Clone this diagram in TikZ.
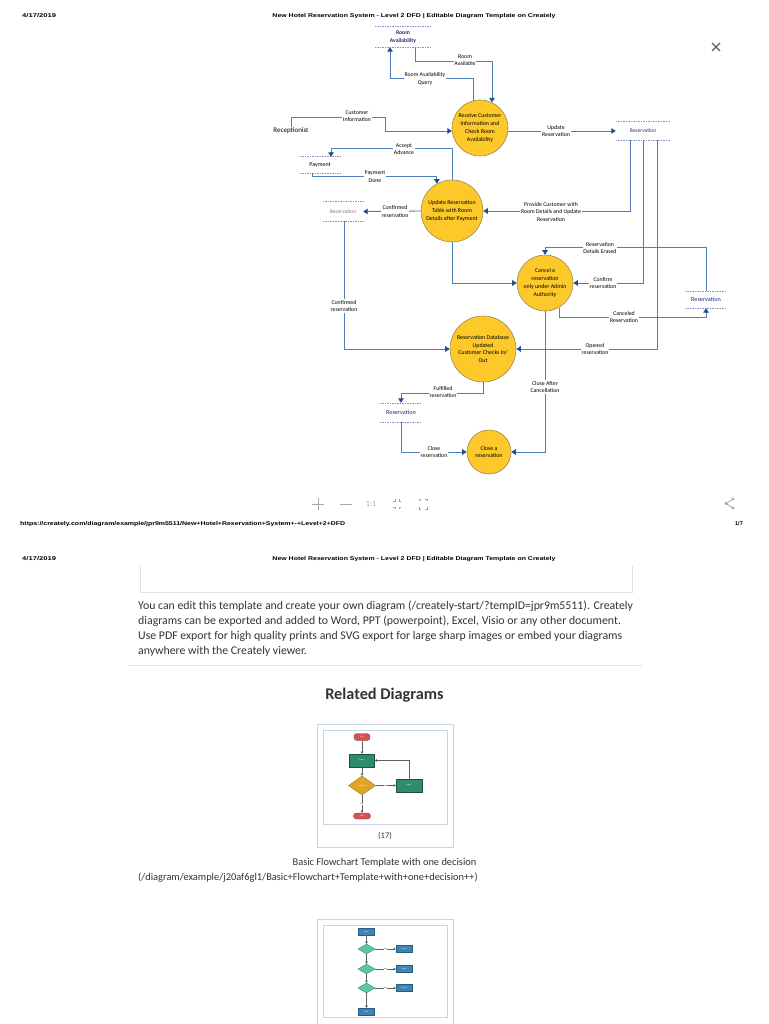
\documentclass[tikz,border=0pt]{standalone}
\usepackage{fontspec}
\setmainfont{Carlito}
\newfontfamily\hdrfont{Liberation Sans}
\usetikzlibrary{arrows.meta,calc,shapes.geometric}
\definecolor{procyellow}{HTML}{FCC82A}
\definecolor{procborder}{HTML}{9A8A5A}
\definecolor{flowline}{HTML}{4E7FB8}
\definecolor{flowtip}{HTML}{1D4F8F}
\definecolor{storeline}{HTML}{8C8CCC}
\definecolor{storetext}{HTML}{2A2A80}
\definecolor{textgray}{HTML}{333333}
\definecolor{boxgray}{HTML}{E0E0E0}
\definecolor{thumbborder}{HTML}{C9D5E4}
\definecolor{startred}{HTML}{D2544F}
\definecolor{stepgreen}{HTML}{2E8C6C}
\definecolor{decgold}{HTML}{E0A526}
\definecolor{stepblue}{HTML}{3C84B6}
\definecolor{decgreen}{HTML}{5CC7A0}
\definecolor{icongray}{HTML}{A8A8A8}
\definecolor{iconred}{HTML}{D98A8A}
\begin{document}
\begin{tikzpicture}[x=1pt,y=-1pt,
  proc/.style={circle, draw=procborder, line width=0.6pt, fill=procyellow, align=center, inner sep=0pt, font=\fontsize{5.9}{7.9}\selectfont},
  flow/.style={draw=flowline, line width=0.9pt, -{Triangle[width=5.5pt,length=4.5pt,color=flowtip]}},
  lbl/.style={fill=white, align=center, inner sep=0.8pt, font=\fontsize{5.8}{7.5}\selectfont},
  store/.style={inner sep=0pt, align=center, text=storetext, font=\fontsize{5.5}{7.5}\selectfont},
  storeedge/.style={draw=storeline, line width=0.6pt, dash pattern=on 1.6pt off 0.9pt},
  hdr/.style={inner sep=0pt, font=\hdrfont\bfseries\fontsize{5.5}{6}\selectfont},
  thumbframe/.style={draw=thumbborder, line width=0.8pt},
  tbox/.style={inner sep=0pt, text=white, font=\fontsize{2}{2}\selectfont},
  tarrow/.style={draw=gray!75!black, line width=0.5pt, -{Triangle[width=2.6pt,length=2.2pt]}},
  tlabel/.style={inner sep=0.3pt, fill=white, font=\fontsize{2}{2}\selectfont}
]
\useasboundingbox[fill=white] (0,0) rectangle (768,1024);

% ---------- page 1 header ----------
\node[hdr, anchor=west] (date1) at (22,16) {\resizebox{34pt}{\height}{4/17/2019}};
\node[hdr] (title1) at (414,16) {\resizebox{283pt}{\height}{New Hotel Reservation System - Level 2 DFD | Editable Diagram Template on Creately}};
\draw[gray!75!black, line width=1.2pt] (712,43) -- (720,51) (712,51) -- (720,43);

% ---------- data stores ----------
\node[store, font=\bfseries\fontsize{5.7}{8}\selectfont, minimum width=56pt, minimum height=20pt] (ra) at (403,37) {Room\\Availability};
\node[store, minimum width=40pt, minimum height=16pt, text=black, font=\fontsize{6}{7}\selectfont] (pay) at (320,165) {Payment};
\node[store, minimum width=40pt, minimum height=19pt, text=gray] (resL) at (343,211.5) {Reservation};
\node[store, minimum width=54pt, minimum height=18pt] (resR1) at (643,131) {Reservation};
\node[store, minimum width=42pt, minimum height=17pt, font=\fontsize{6.2}{7}\selectfont] (resR2) at (706,299.5) {Reservation};
\node[store, minimum width=42pt, minimum height=19pt, font=\fontsize{6.2}{7}\selectfont] (resB) at (401,412.5) {Reservation};
\foreach \s in {ra,pay,resL,resR1,resR2,resB}{
  \draw[storeedge] (\s.north west) -- (\s.north east) (\s.south west) -- (\s.south east);
}

% ---------- processes ----------
\node[proc, minimum size=56pt] (p1) at (480,128) {Receive Customer\\Information and\\Check Room\\Availability};
\node[proc, minimum size=62pt] (p2) at (452,211) {Update Reservation\\Table with Room\\Details after Payment};
\node[proc, minimum size=56pt] (p3) at (545,283) {Cancel a\\reservation\\only under Admin\\Authority};
\node[proc, minimum size=66pt] (p4) at (483,349) {Reservation Database\\Updated\\Customer Checks In/\\Out};
\node[proc, minimum size=44pt] (p5) at (489,452) {Close a\\reservation};

\node[inner sep=1pt, font=\fontsize{7}{8}\selectfont] (rec) at (291,131) {Receptionist};

% ---------- flows ----------
\draw[flow] (p1.104) -- ++(0,-22) -| ([xshift=-13pt]ra.south);
\draw[flow] ([xshift=12pt]ra.south) -- ++(0,14) -| (p1.65);
\draw[flow] (rec.north) -- ++(0,-9) -| ($(p1.186)+(-66,0)$) -- (p1.186);
\draw[flow] (p2.north) -- ++(0,-31) -| ([xshift=11pt]pay.north);
\draw[flow] ([xshift=-8pt]pay.south) -- ++(0,3) -| (p2.119);
\draw[flow] (p2.west) -- (resL.east);
\draw[flow] ([xshift=1pt]resL.south) |- (p4.west);
\draw[flow] (p2.south) |- (p3.west);
\draw[flow] (p1.354) -- (p1.354 -| resR1.west);
\draw[flow] ([xshift=-13pt]resR1.south) |- (p2.east);
\draw[flow] (resR1.south) |- (p3.east);
\draw[flow] ([xshift=14pt]resR1.south) |- (p4.east);
\draw[flow] (resR2.north) -- ++(0,-43) -| (p3.north);
\draw[flow] (p3.-60) -- ++(0,10) -| (resR2.south);
\draw[flow] (p3.south) |- (p5.east);
\draw[flow] (p4.south) -- ++(0,11) -| (resB.north);
\draw[flow] (resB.south) |- (p5.west);

% ---------- flow labels ----------
\node[lbl] (l1) at (425,79) {Room Availability\\Query};
\node[lbl] (l2) at (465,60) {Room\\Available};
\node[lbl] (l3) at (357,116) {Customer\\Information};
\node[lbl] (l4) at (404,149) {Accept\\Advance};
\node[lbl] (l5) at (375,176.5) {Payment\\Done};
\node[lbl] (l6) at (395,211.5) {Confirmed\\reservation};
\node[lbl] (l7) at (344,306) {Confirmed\\reservation};
\node[lbl] (l8) at (556,131) {Update\\Reservation};
\node[lbl] (l9) at (551,212) {Provide Customer with\\Room Details and Update\\Reservation};
\node[lbl] (l10) at (603,283) {Confirm\\reservation};
\node[lbl] (l11) at (595,349) {Opened\\reservation};
\node[lbl] (l12) at (600,248) {Reservation\\Details Erased};
\node[lbl] (l13) at (624,317) {Canceled\\Reservation};
\node[lbl] (l14) at (545,387) {Close After\\Cancellation};
\node[lbl] (l15) at (443,392) {Fulfilled\\reservation};
\node[lbl] (l16) at (434,452) {Close\\reservation};

% ---------- toolbar ----------
\draw[icongray, line width=0.9pt] (312,504) -- (324,504) (318,498) -- (318,510);
\draw[icongray, line width=0.9pt] (340,504) -- (352,504);
\node[inner sep=0pt, text=icongray, font=\fontsize{8}{9}\selectfont] (one) at (371,504) {1:1};
\begin{scope}[iconred, line width=0.6pt]
  \draw (393,501) -- (395,501) -- (395,499) (401,501) -- (399,501) -- (399,499)
        (393,507) -- (395,507) -- (395,509) (401,507) -- (399,507) -- (399,509);
  \draw (419,501) -- (419,499) -- (421,499) (427,501) -- (427,499) -- (425,499)
        (419,507) -- (419,509) -- (421,509) (427,507) -- (427,509) -- (425,509);
\end{scope}
\draw[icongray, line width=0.8pt] (733,499) -- (726,503.5) -- (733,508);
\fill[icongray] (733,499) circle (1.6) (726,503.5) circle (1.6) (733,508) circle (1.6);

% ---------- page 1 footer ----------
\node[hdr, anchor=west] (url) at (20,524) {\resizebox{325pt}{\height}{https://creately.com/diagram/example/jpr9m5511/New+Hotel+Reservation+System+-+Level+2+DFD}};
\node[hdr, anchor=east] (pg) at (743,524) {1/7};

% ---------- page 2 ----------
\node[hdr, anchor=west] (date2) at (22,559) {\resizebox{34pt}{\height}{4/17/2019}};
\node[hdr] (title2) at (414,559) {\resizebox{283pt}{\height}{New Hotel Reservation System - Level 2 DFD | Editable Diagram Template on Creately}};
\draw[boxgray, line width=1pt] (140,566) -- (140,592) -- (632,592) -- (632,566);

\begin{scope}[every node/.style={anchor=base west, inner sep=0pt, text=textgray, font=\fontsize{11.8}{15}\selectfont}]
\node (para1) at (138,609) {You can edit this template and create your own diagram (/creately-start/?tempID=jpr9m5511). Creately};
\node (para2) at (138,624) {diagrams can be exported and added to Word, PPT (powerpoint), Excel, Visio or any other document.};
\node (para3) at (138,639) {Use PDF export for high quality prints and SVG export for large sharp images or embed your diagrams};
\node (para4) at (138,654) {anywhere with the Creately viewer.};
\end{scope}
\draw[boxgray, line width=0.8pt] (128,665) -- (642,665);

\node[inner sep=0pt, text=textgray, font=\bfseries\fontsize{16.3}{18}\selectfont] (rel) at (384.5,695) {Related Diagrams};

% thumbnail 1
\draw[thumbframe] (317,724) rectangle (453,847);
\draw[thumbframe] (323,730) rectangle (447,824);
\node[tbox, rounded corners=3pt, fill=startred, draw=startred!70!black, minimum width=16pt, minimum height=7pt] (t1s) at (362,737) {Start};
\node[tbox, fill=stepgreen, draw=stepgreen!60!black, minimum width=25pt, minimum height=13pt] (t1a) at (362,760.5) {Step 1};
\node[tbox, diamond, fill=decgold, draw=decgold!70!black, minimum width=27pt, minimum height=19pt] (t1d) at (362,785.5) {Decision};
\node[tbox, fill=stepgreen, draw=stepgreen!60!black, minimum width=26pt, minimum height=13pt] (t1b) at (409,785.5) {Step 2};
\node[tbox, rounded corners=3pt, fill=startred, draw=startred!70!black, minimum width=17pt, minimum height=6pt] (t1e) at (362,816) {End};
\draw[tarrow] (t1s) -- (t1a);
\draw[tarrow] (t1a) -- (t1d);
\draw[tarrow] (t1d) -- node[tlabel] (t1no) {No} (t1b);
\draw[tarrow] (t1b.north) |- (t1a.east);
\draw[tarrow] (t1d) -- node[tlabel] (t1yes) {Yes} (t1e);
\node[inner sep=0pt, text=textgray, font=\fontsize{8.5}{10}\selectfont] (cnt) at (385,836) {(17)};
\node[inner sep=0pt, text=textgray, font=\fontsize{10.4}{12}\selectfont] (cap1) at (384.5,863) {Basic Flowchart Template with one decision};
\node[inner sep=0pt, anchor=west, text=textgray, font=\fontsize{10.4}{12}\selectfont] (cap2) at (138,878) {(/diagram/example/j20af6gl1/Basic+Flowchart+Template+with+one+decision++)};

% thumbnail 2
\draw[thumbframe] (317,1024) -- (317,919) -- (453,919) -- (453,1024);
\draw[thumbframe] (323,925) rectangle (447,1017);
\node[tbox, fill=stepblue, draw=stepblue!70!black, minimum width=16pt, minimum height=7pt] (t2s) at (366.5,931.5) {Start};
\foreach \i/\yy in {1/949,2/969,3/988}{
  \node[tbox, diamond, fill=decgreen, draw=decgreen!70!black, minimum width=17pt, minimum height=10pt] (t2d\i) at (366.5,\yy) {};
  \node[tbox, fill=stepblue, draw=stepblue!70!black, minimum width=16pt, minimum height=7pt] (t2r\i) at (404,\yy) {Step \i};
  \draw[tarrow] (t2d\i) -- node[tlabel] (t2n\i) {No} (t2r\i);
}
\node[tbox, fill=stepblue, draw=stepblue!70!black, minimum width=16pt, minimum height=7pt] (t2e) at (366.5,1011.5) {End};
\draw[tarrow] (t2s) -- (t2d1);
\draw[tarrow] (t2d1) -- (t2d2);
\draw[tarrow] (t2d2) -- (t2d3);
\draw[tarrow] (t2d3) -- (t2e);
\end{tikzpicture}
\end{document}
